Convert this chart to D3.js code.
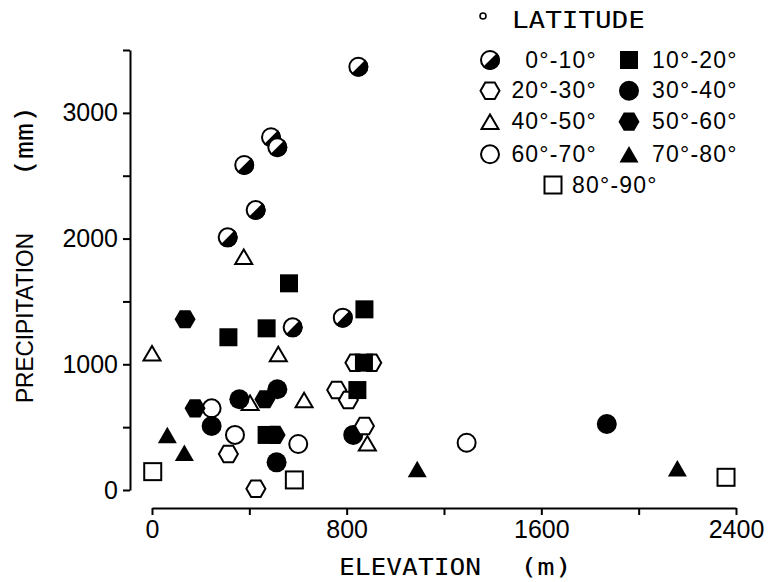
<!DOCTYPE html>
<html><head><meta charset="utf-8">
<script src="https://cdn.jsdelivr.net/npm/d3@7/dist/d3.min.js"></script>
<style>body{margin:0;background:#fff}svg{display:block}</style>
</head><body>
<svg id="c" width="768" height="582"></svg>
<script>
// ---- data: [elevation (m), precipitation (mm)] per latitude band ----
const bandLabels = ["0°-10°","10°-20°","20°-30°","30°-40°","40°-50°","50°-60°","60°-70°","70°-80°","80°-90°"];
const lat00_10 = [[848,3367],[489,2806],[515,2726],[379,2585],[426,2227],[311,2010],[578,1294],[784,1371]];
const lat10_20 = [[563,1644],[873,1437],[314,1215],[471,1286],[871,1013],[844,795],[471,438]];
const lat20_30 = [[834,1013],[903,1013],[759,795],[807,716],[873,509],[314,286],[427,10]];
const lat30_40 = [[359,722],[515,801],[245,509],[512,220],[827,438],[1869,525]];
const lat40_50 = [[377,1856],[519,1082],[0,1087],[625,716],[885,371],[403,694]];
const lat50_60 = [[136,1358],[177,650],[464,722],[506,438]];
const lat60_70 = [[245,650],[341,438],[601,366],[1293,376]];
const lat70_80 = [[63,438],[133,297],[1090,167],[2159,173]];
const lat80_90 = [[3,146],[585,80],[2359,101]];
const xTickValues = [0,400,800,1200,1600,2000,2400];
const xTickLabels = [0,800,1600,2400];
const yTickValues = [0,500,1000,1500,2000,2500,3000,3500];
const yTickLabels = [0,1000,2000,3000];

// ---- styling ----
const series = [
  {label:bandLabels[0], data:lat00_10, shape:"half"},
  {label:bandLabels[1], data:lat10_20, shape:"fsquare"},
  {label:bandLabels[2], data:lat20_30, shape:"ohex"},
  {label:bandLabels[3], data:lat30_40, shape:"fcircle"},
  {label:bandLabels[4], data:lat40_50, shape:"otri"},
  {label:bandLabels[5], data:lat50_60, shape:"fhex"},
  {label:bandLabels[6], data:lat60_70, shape:"ocircle"},
  {label:bandLabels[7], data:lat70_80, shape:"ftri"},
  {label:bandLabels[8], data:lat80_90, shape:"osquare"}
];
// drawing order (back to front)
const drawOrder = [8,6,4,3,2,1,0,5,7];

const svg = d3.select("#c");
const x = d3.scaleLinear().domain([0,2400]).range([152,736]);
const y = d3.scaleLinear().domain([0,3500]).range([490,50]);
const sans = "'Liberation Sans', Arial, Helvetica, sans-serif";
const mono = "'DejaVu Sans Mono', 'Liberation Mono', monospace";

function hexPath(r){
  const pts = d3.range(6).map(i=>[r*Math.cos(i*Math.PI/3), r*Math.sin(i*Math.PI/3)]);
  return "M"+pts.map(p=>p.join(",")).join("L")+"Z";
}
function triPath(w,h){ return `M0,${-h/2}L${w/2},${h/2}L${-w/2},${h/2}Z`; }

function drawShape(g, shape){
  const k = 2;
  switch(shape){
    case "half": {
      g.append("circle").attr("r",9).attr("fill","#fff").attr("stroke","#000").attr("stroke-width",k);
      const a = 10/Math.SQRT2;
      g.append("path").attr("d",`M${a},${-a}A10,10 0 0 1 ${-a},${a}Z`).attr("fill","#000");
      break;}
    case "fsquare": g.append("rect").attr("x",-9).attr("y",-9).attr("width",18).attr("height",18).attr("fill","#000"); break;
    case "osquare": g.append("rect").attr("x",-8.5).attr("y",-8.5).attr("width",17).attr("height",17).attr("fill","#fff").attr("stroke","#000").attr("stroke-width",k); break;
    case "fcircle": g.append("circle").attr("r",10).attr("fill","#000"); break;
    case "ocircle": g.append("circle").attr("r",9).attr("fill","#fff").attr("stroke","#000").attr("stroke-width",k); break;
    case "fhex": g.append("path").attr("d",hexPath(10.5)).attr("fill","#000"); break;
    case "ohex": g.append("path").attr("d",hexPath(9.5)).attr("fill","#fff").attr("stroke","#000").attr("stroke-width",k); break;
    case "ftri": g.append("path").attr("d",triPath(19,16.5)).attr("fill","#000"); break;
    case "otri": g.append("path").attr("d",triPath(17,14.5)).attr("fill","#fff").attr("stroke","#000").attr("stroke-width",k).attr("stroke-linejoin","miter"); break;
  }
}

// ---- axes ----
const xAxis = d3.axisBottom(x).tickValues(xTickValues).tickSize(7).tickSizeOuter(0).tickPadding(5)
  .tickFormat(d => xTickLabels.includes(d) ? String(d) : "");
const gx = svg.append("g").attr("transform","translate(0,508)").call(xAxis);
const yAxis = d3.axisLeft(y).tickValues(yTickValues).tickSize(7).tickSizeOuter(0).tickPadding(5)
  .tickFormat(d => yTickLabels.includes(d) ? String(d) : "");
const gy = svg.append("g").attr("transform","translate(130,0)").call(yAxis);
[gx,gy].forEach(g=>{
  g.selectAll("path,line").attr("stroke","#000").attr("stroke-width",2);
  g.selectAll("text").attr("font-family",sans).attr("font-size",25).attr("fill","#000");
});
gx.selectAll("text").attr("dy","0.71em");

// axis titles
svg.append("text").attr("x",339).attr("y",575).attr("font-family",mono).attr("font-size",23)
  .attr("textLength",142).attr("lengthAdjust","spacingAndGlyphs").text("ELEVATION");
svg.append("text").attr("x",520).attr("y",575).attr("font-family",mono).attr("font-size",23)
  .attr("textLength",52).attr("lengthAdjust","spacingAndGlyphs").text("(m)");
svg.append("text").attr("transform","translate(33,403) rotate(-90)").attr("font-family",sans).attr("font-size",24)
  .attr("textLength",170).attr("lengthAdjust","spacingAndGlyphs").text("PRECIPITATION");
svg.append("text").attr("transform","translate(33,177) rotate(-90)").attr("font-family",mono).attr("font-size",24)
  .attr("textLength",72).attr("lengthAdjust","spacingAndGlyphs").text("(mm)");

// ---- points ----
const plot = svg.append("g");
drawOrder.forEach(i=>{
  const s = series[i];
  s.data.forEach(d=>{
    const g = plot.append("g").attr("transform",`translate(${x(d[0])},${y(d[1])})`);
    drawShape(g, s.shape);
  });
});

// ---- legend ----
const lg = svg.append("g");
lg.append("circle").attr("cx",483).attr("cy",16).attr("r",3).attr("fill","none").attr("stroke","#000").attr("stroke-width",1.6);
lg.append("text").attr("x",512).attr("y",28).attr("font-family",mono).attr("font-size",23)
  .attr("textLength",133).attr("lengthAdjust","spacingAndGlyphs").text("LATITUDE");
const rowY = [60,90.8,121.7,154.3,185];
series.forEach((s,i)=>{
  let sx, tx, anchor, ry;
  if(i===8){ sx=553; tx=572; anchor="start"; ry=rowY[4]; }
  else if(i%2===0){ sx=490; tx=597; anchor="end"; ry=rowY[i/2]; }
  else { sx=629; tx=652; anchor="start"; ry=rowY[(i-1)/2]; }
  const g = lg.append("g").attr("transform",`translate(${sx},${ry})`);
  drawShape(g, s.shape);
  lg.append("text").attr("x",tx).attr("y",ry+7.5).attr("text-anchor",anchor)
    .attr("font-family",sans).attr("font-size",23).attr("letter-spacing","1.2px").text(s.label);
});
</script>
</body></html>
